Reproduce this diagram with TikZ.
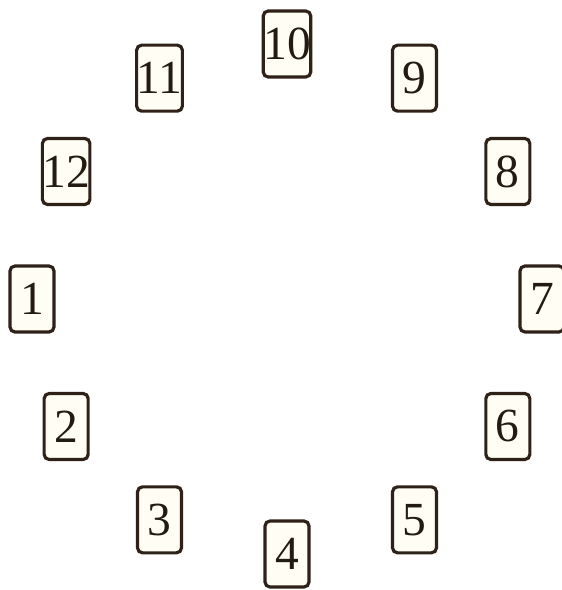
\documentclass[tikz,border=0pt]{standalone}
\usepackage{fontspec}
\setmainfont{Liberation Serif}
\usepackage{tikz}
\usetikzlibrary{positioning,calc}

\definecolor{cardline}{HTML}{2E2218}
\definecolor{cardfill}{HTML}{FFFDF4}
\definecolor{cardtext}{HTML}{231A12}

\begin{document}
\begin{tikzpicture}[
    x=0.6pt, y=0.6pt,
    card/.style={rectangle, draw=cardline, fill=cardfill, line width=1.9pt, rounded corners=3pt, minimum width=26.4pt, minimum height=39.6pt, inner sep=0pt, text=cardtext, font=\fontsize{28.5}{30}\selectfont}
]
\useasboundingbox (0,0) rectangle (561,-590);

% Cards round the circle
\coordinate (centre) at (287,-299);
\foreach \n/\a in {10/90, 11/120, 12/150, 1/180, 2/210, 3/240, 4/270, 5/300, 6/330, 7/0, 8/30, 9/60}
    \node[card] (card\n) at ([shift={(\a:255)}]centre) {\n};

\end{tikzpicture}
\end{document}
